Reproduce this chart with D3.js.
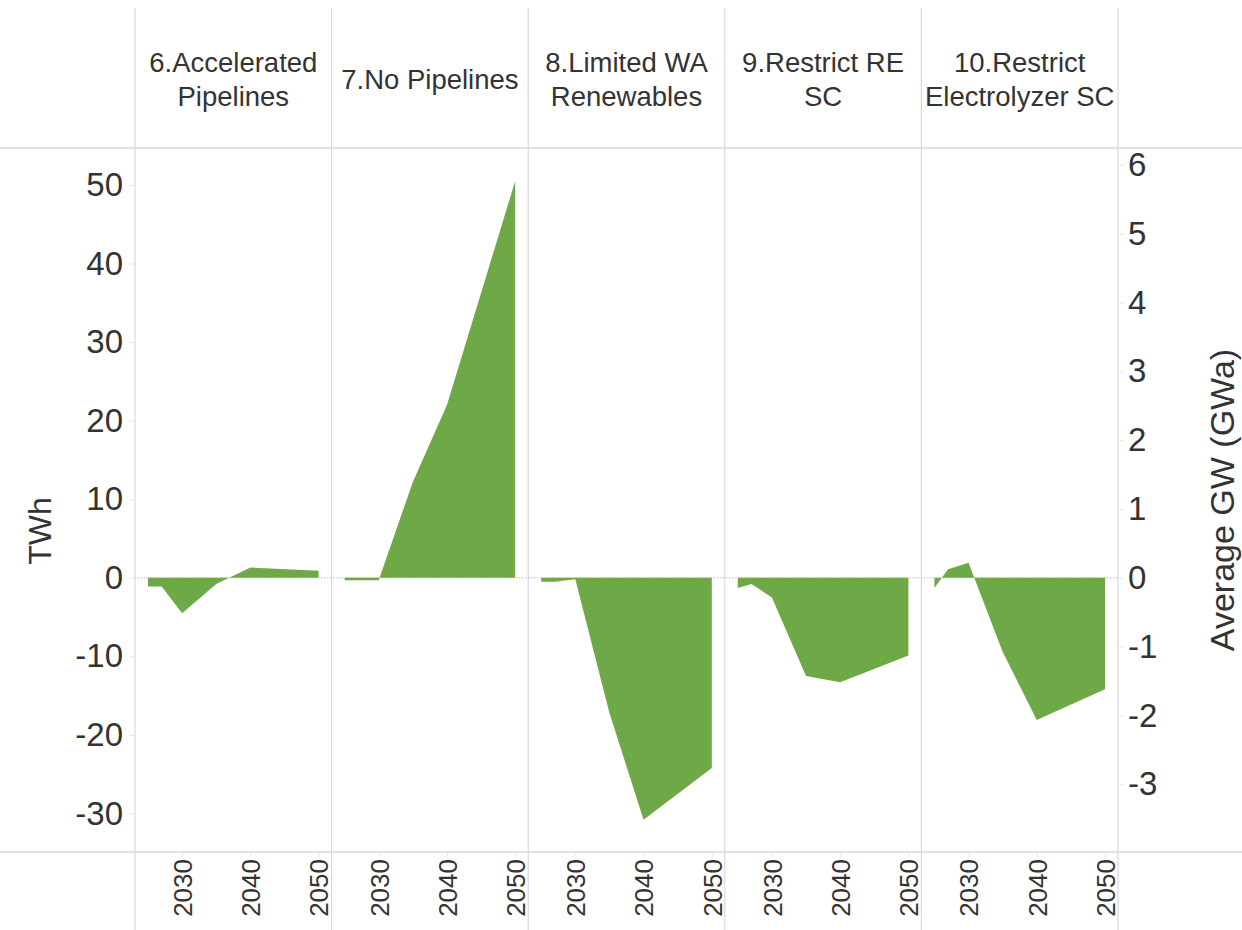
<!DOCTYPE html>
<meta charset="utf-8">
<style>
    body { margin: 0; background: #fff; }
    .container { width: 1242px; height: 930px; }
    text { font-family: "Liberation Sans", Arial, sans-serif; fill: #333; }
</style>
<body>
<div class="container"></div>
<script src="https://cdn.jsdelivr.net/npm/d3@7"></script>
<script>

// scenario panels and their header text
const scenarios = ['6', '7', '8', '9', '10'];
const titles = [
    ['6.Accelerated', 'Pipelines'],
    ['7.No Pipelines'],
    ['8.Limited WA', 'Renewables'],
    ['9.Restrict RE', 'SC'],
    ['10.Restrict', 'Electrolyzer SC']
];

// x values
const years = [2025, 2027, 2030, 2035, 2040, 2050];
const yearTicks = [2030, 2040, 2050];

// TWh difference per scenario
const acceleratedPipelines = [-1.1, -1.1, -4.5, -0.8, 1.3, 0.9];
const noPipelines = [-0.3, -0.3, -0.3, 12.2, 22.0, 50.5];
const limitedWARenewables = [-0.5, -0.5, -0.2, -17.2, -30.8, -24.2];
const restrictRESC = [-1.3, -0.8, -2.5, -12.5, -13.3, -9.9];
const restrictElectrolyzerSC = [-1.3, 1.1, 1.9, -9.4, -18.1, -14.2];

const series = [acceleratedPipelines, noPipelines, limitedWARenewables, restrictRESC, restrictElectrolyzerSC];

const leftTicks = [50, 40, 30, 20, 10, 0, -10, -20, -30];
const rightTicks = [6, 5, 4, 3, 2, 1, 0, -1, -2, -3];
const twhPerGWa = 8.76;

const width = 1242;
const height = 930;
const plotTop = 148, plotBottom = 852, plotLeft = 135, plotRight = 1118;
const lineColor = '#d9d9d9';
const green = '#6ea847';

const svg = d3.select('.container')
    .append('svg')
    .attr('width', width)
    .attr('height', height);

const yDomain = [-34.9, 54.7];
const y = d3.scaleLinear().domain(yDomain).range([plotBottom, plotTop]);
const yRight = d3.scaleLinear().domain(yDomain.map(d => d / twhPerGWa)).range([plotBottom, plotTop]);

const panel = d3.scaleBand().domain(scenarios).range([plotLeft, plotRight]).padding(0);
const bw = panel.bandwidth();
const x = d3.scaleLinear().domain([2025, 2050]).range([13, bw - 13]);

// frame lines
svg.append('line').attr('x1', 0).attr('x2', width).attr('y1', plotTop).attr('y2', plotTop)
    .attr('stroke', lineColor).attr('stroke-width', 1.5);
svg.append('line').attr('x1', 0).attr('x2', width).attr('y1', plotBottom).attr('y2', plotBottom)
    .attr('stroke', lineColor).attr('stroke-width', 1.5);

const seps = scenarios.map(s => panel(s)).concat([plotRight]);
svg.selectAll('line.sep')
    .data(seps)
    .enter()
    .append('line')
    .attr('class', 'sep')
    .attr('x1', d => d).attr('x2', d => d)
    .attr('y1', 8).attr('y2', height)
    .attr('stroke', lineColor)
    .attr('stroke-width', 1.2);

// zero line
svg.append('line')
    .attr('x1', plotLeft).attr('x2', plotRight)
    .attr('y1', y(0)).attr('y2', y(0))
    .attr('stroke', '#bdbdbd')
    .attr('stroke-dasharray', '1.5,1.5');

// panels
const area = d3.area()
    .x((d, i) => x(years[i]))
    .y0(y(0))
    .y1(d => y(d));

scenarios.forEach((s, i) => {
    const g = svg.append('g').attr('transform', `translate(${panel(s)},0)`);

    g.append('path')
        .datum(series[i])
        .attr('d', area)
        .attr('fill', green);

    const t = g.append('text')
        .attr('text-anchor', 'middle')
        .style('font-size', '27.5px');
    const lines = titles[i];
    const cy = lines.length === 1 ? 79 : 62;
    lines.forEach((ln, j) => {
        t.append('tspan')
            .attr('x', bw / 2)
            .attr('y', cy + j * 34)
            .attr('dy', '0.35em')
            .text(ln);
    });

    // x axis ticks
    const xa = d3.axisBottom(x).tickValues(yearTicks).tickFormat(d3.format('d')).tickSize(5);
    const ag = g.append('g').attr('transform', `translate(0,${plotBottom})`).call(xa);
    ag.select('.domain').remove();
    ag.selectAll('.tick line').attr('stroke', '#e6e6e6');
    ag.selectAll('.tick text')
        .attr('transform', 'rotate(-90)')
        .attr('x', -7)
        .attr('y', 0)
        .attr('dy', '0.36em')
        .attr('text-anchor', 'end')
        .style('font-size', '26px')
        .style('fill', '#333');
});

// left axis
const la = svg.append('g')
    .attr('transform', `translate(${plotLeft},0)`)
    .call(d3.axisLeft(y).tickValues(leftTicks).tickFormat(d => String(d)).tickSize(6).tickPadding(6));
la.select('.domain').remove();
la.selectAll('.tick line').attr('stroke', '#e6e6e6');
la.selectAll('.tick text').style('font-size', '33px').style('fill', '#333');

// right axis
const ra = svg.append('g')
    .attr('transform', `translate(${plotRight},0)`)
    .call(d3.axisRight(yRight).tickValues(rightTicks).tickFormat(d => String(d)).tickSize(6).tickPadding(4));
ra.select('.domain').remove();
ra.selectAll('.tick line').attr('stroke', '#e6e6e6');
ra.selectAll('.tick text').style('font-size', '33px').style('fill', '#333');

// axis titles
svg.append('text')
    .attr('transform', 'translate(40,531) rotate(-90)')
    .attr('text-anchor', 'middle')
    .attr('dy', '0.35em')
    .style('font-size', '32px')
    .text('TWh');

svg.append('text')
    .attr('transform', 'translate(1222,500) rotate(-90)')
    .attr('text-anchor', 'middle')
    .attr('dy', '0.35em')
    .style('font-size', '34px')
    .text('Average GW (GWa)');

</script>
</body>
